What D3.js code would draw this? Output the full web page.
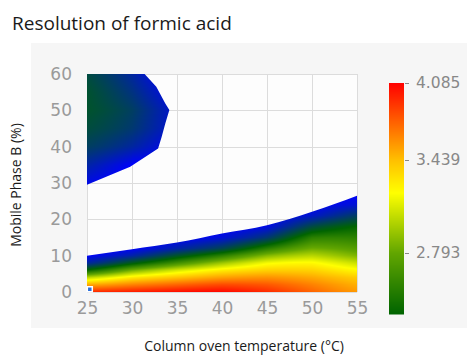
<!DOCTYPE html>
<html>
<head>
<meta charset="utf-8">
<script src="https://cdn.jsdelivr.net/npm/d3@7"></script>
<style>
  html, body { margin: 0; padding: 0; background: #fff; }
  svg { display: block; }
</style>
</head>
<body>
<div id="chart"></div>
<script>
// column oven temperature (x) and mobile phase B (y) grid
const temps = [25, 30, 35, 40, 45, 50, 55];
const phaseB = [0, 2, 4, 6, 8, 10, 12, 15, 18, 21, 24, 27, 30, 35, 40, 45, 50, 55, 60];

// resolution values, one row per phaseB value (null = no model)
const resolution = [
  [3.95, 4.0, 4.05, 4.08, 3.95, 3.75, 3.55],
  [3.5, 3.65, 3.75, 3.85, 3.8, 3.65, 3.48],
  [3.0, 3.3, 3.42, 3.55, 3.6, 3.52, 3.38],
  [2.35, 2.85, 3.1, 3.28, 3.38, 3.38, 3.22],
  [1.85, 2.3, 2.65, 2.95, 3.2, 3.25, 3.05],
  [1.6, 1.85, 2.25, 2.55, 2.9, 3.05, 2.85],
  [1.6, 1.6, 1.85, 2.1, 2.55, 2.85, 2.72],
  [null, 1.6, 1.6, 1.7, 2.0, 2.6, 2.55],
  [null, null, 1.6, 1.6, 1.65, 2.2, 2.4],
  [null, null, null, null, 1.6, 1.75, 2.1],
  [null, null, null, null, null, 1.6, 1.75],
  [null, null, null, null, null, null, 1.6],
  [1.7, 1.5, null, null, null, null, null],
  [1.9, 1.6, null, null, null, null, null],
  [2.1, 1.9, 1.6, null, null, null, null],
  [2.2, 2.05, 1.7, null, null, null, null],
  [2.25, 2.1, 1.7, null, null, null, null],
  [2.25, 2.0, 1.6, null, null, null, null],
  [2.2, 1.9, 1.5, null, null, null, null],
];

// outline of the lower valid region (upper edge)
const lowerEdgeTemp = [25, 30, 35, 40, 45, 50, 52.5, 55];
const lowerEdgeB = [10, 11.8, 13.6, 16.1, 18.4, 22.1, 24.2, 26.5];

// outline of the upper-left valid region
const upperTemp = [25, 29.8, 32.9, 33.3, 33.7, 34.15, 33.7, 32.7, 31.4, 25];
const upperB = [29.5, 34.5, 39.5, 42.7, 46.4, 50.1, 51.9, 56.5, 60, 60];

// optimum point marker
const optTemp = [25.2];
const optB = [0.5];

// colour bar
const cbMin = 2.37;
const cbTicks = [2.793, 3.439, 4.085];
const colorStops = [1.6, 2.37, 2.793, 3.21, 3.439, 4.085];
const colorHex = ["#0000ff", "#006400", "#62a600", "#ffff00", "#ffbf00", "#ff0000"];

const width = 467, height = 355;
const svg = d3.select("#chart").append("svg")
  .attr("width", width).attr("height", height);

// panel background
svg.append("rect").attr("x", 31).attr("y", 43)
  .attr("width", width - 31).attr("height", 328 - 43).attr("fill", "#f6f6f6");

const x = d3.scaleLinear().domain([25, 55]).range([87, 357]);
const y = d3.scaleLinear().domain([0, 60]).range([292, 74]);
const color = d3.scaleLinear().domain(colorStops).range(colorHex).clamp(true);

svg.append("rect").attr("x", 87).attr("y", 74)
  .attr("width", 270).attr("height", 218).attr("fill", "#fdfdfd");

// grid
const grid = svg.append("g").attr("stroke", "#dcdcdc").attr("stroke-width", 1);
grid.selectAll(".gx").data(d3.range(25, 56, 5)).join("line")
  .attr("x1", d => Math.round(x(d)) + 0.5).attr("x2", d => Math.round(x(d)) + 0.5)
  .attr("y1", y(60)).attr("y2", y(0));
grid.selectAll(".gy").data(d3.range(0, 61, 10)).join("line")
  .attr("y1", d => Math.round(y(d)) + 0.5).attr("y2", d => Math.round(y(d)) + 0.5)
  .attr("x1", x(25)).attr("x2", x(55));

// value along one grid row, smooth (cubic) in temperature where possible
function rowValue(j, i, tx) {
  const row = resolution[j];
  const a = row[i], b = row[i + 1];
  if (a == null || b == null) return a == null ? b : (b == null ? a : null);
  const p0 = row[i - 1] != null ? row[i - 1] : a;
  const p3 = row[i + 2] != null ? row[i + 2] : b;
  return d3.interpolateBasis([p0, a, b, p3])((1 + tx) / 3) * 0.5 + (a + (b - a) * tx) * 0.5;
}

function valueAt(t, bval) {
  const i = Math.max(0, Math.min(temps.length - 2, d3.bisectRight(temps, t) - 1));
  const j = Math.max(0, Math.min(phaseB.length - 2, d3.bisectRight(phaseB, bval) - 1));
  const tx = Math.max(0, Math.min(1, (t - temps[i]) / (temps[i + 1] - temps[i])));
  const ty = Math.max(0, Math.min(1, (bval - phaseB[j]) / (phaseB[j + 1] - phaseB[j])));
  const lo = rowValue(j, i, tx), hi = rowValue(j + 1, i, tx);
  if (lo == null && hi == null) return null;
  if (lo == null) return hi;
  if (hi == null) return lo;
  return lo + (hi - lo) * ty;
}

// render the surface into a canvas image
const x0 = x(25), y0 = y(60), pw = x(55) - x(25), ph = y(0) - y(60);
const canvas = document.createElement("canvas");
canvas.width = pw; canvas.height = ph;
const ctx = canvas.getContext("2d");
const img = ctx.createImageData(pw, ph);
for (let py = 0; py < ph; py++) {
  for (let px = 0; px < pw; px++) {
    const v = valueAt(x.invert(x0 + px + 0.5), y.invert(y0 + py + 0.5));
    const k = (py * pw + px) * 4;
    if (v == null) { img.data[k + 3] = 0; continue; }
    const c = d3.rgb(color(v));
    img.data[k] = c.r; img.data[k + 1] = c.g; img.data[k + 2] = c.b; img.data[k + 3] = 255;
  }
}
ctx.putImageData(img, 0, 0);

const defs = svg.append("defs");
const clip = defs.append("clipPath").attr("id", "valid");
clip.append("path")
  .attr("d", d3.area()
    .x(d => x(d[0])).y0(y(0)).y1(d => y(d[1]))
    .curve(d3.curveMonotoneX)(d3.zip(lowerEdgeTemp, lowerEdgeB)));
clip.append("path")
  .attr("d", d3.line().x(d => x(d[0])).y(d => y(d[1]))(d3.zip(upperTemp, upperB)) + "Z");

svg.append("image")
  .attr("x", x0).attr("y", y0).attr("width", pw).attr("height", ph)
  .attr("preserveAspectRatio", "none")
  .attr("href", canvas.toDataURL())
  .attr("clip-path", "url(#valid)");

// optimum marker
svg.selectAll(".opt").data(d3.zip(optTemp, optB)).join("path")
  .attr("transform", d => `translate(${x(d[0]) + 1},${y(d[1]) - 1})`)
  .attr("d", d3.symbol(d3.symbolSquare, 25))
  .attr("fill", "#2a6fdb").attr("stroke", "#fff").attr("stroke-width", 1.5);

// axes
const tickFont = "DejaVu Sans, Verdana, sans-serif";
const xAxis = svg.append("g").attr("transform", `translate(0,${y(0)})`)
  .call(d3.axisBottom(x).tickValues(d3.range(25, 56, 5)).tickSize(0).tickPadding(10));
const yAxis = svg.append("g").attr("transform", `translate(${x(25)},0)`)
  .call(d3.axisLeft(y).tickValues(d3.range(0, 61, 10)).tickSize(0).tickPadding(15));
[xAxis, yAxis].forEach(a => {
  a.select(".domain").remove();
  a.selectAll("text").attr("fill", "#9a9a9a")
    .style("font-family", tickFont).style("font-size", "17px");
});

// colour bar
const cb = d3.scaleLinear().domain([cbMin].concat(cbTicks)).range([314, 253, 160, 83]);
const cbVals = d3.range(83, 314, 1);
svg.append("g").selectAll("rect").data(cbVals).join("rect")
  .attr("x", 389).attr("width", 15).attr("y", d => d).attr("height", 1.5)
  .attr("fill", d => color(cb.invert(d + 0.5)));
const cbAxis = svg.append("g").attr("transform", "translate(405,0)")
  .call(d3.axisRight(cb).tickValues(cbTicks).tickFormat(d3.format(".3f")).tickSize(4).tickPadding(7));
cbAxis.select(".domain").remove();
cbAxis.selectAll("line").attr("stroke", "#888");
cbAxis.selectAll("text").attr("fill", "#888")
  .style("font-family", tickFont).style("font-size", "15.5px");

// titles
const titleFont = "Open Sans, Noto Sans, sans-serif";
svg.append("text").attr("x", 12).attr("y", 30)
  .style("font-family", titleFont).style("font-size", "19px").attr("fill", "#1a1a1a")
  .text("Resolution of formic acid");
svg.append("text").attr("x", 244).attr("y", 351).attr("text-anchor", "middle")
  .style("font-family", titleFont).style("font-size", "14px").attr("fill", "#1a1a1a")
  .text("Column oven temperature (°C)");
svg.append("text").attr("transform", "translate(21,185) rotate(-90)").attr("text-anchor", "middle")
  .style("font-family", titleFont).style("font-size", "14px").attr("fill", "#1a1a1a")
  .text("Mobile Phase B (%)");
</script>
</body>
</html>
